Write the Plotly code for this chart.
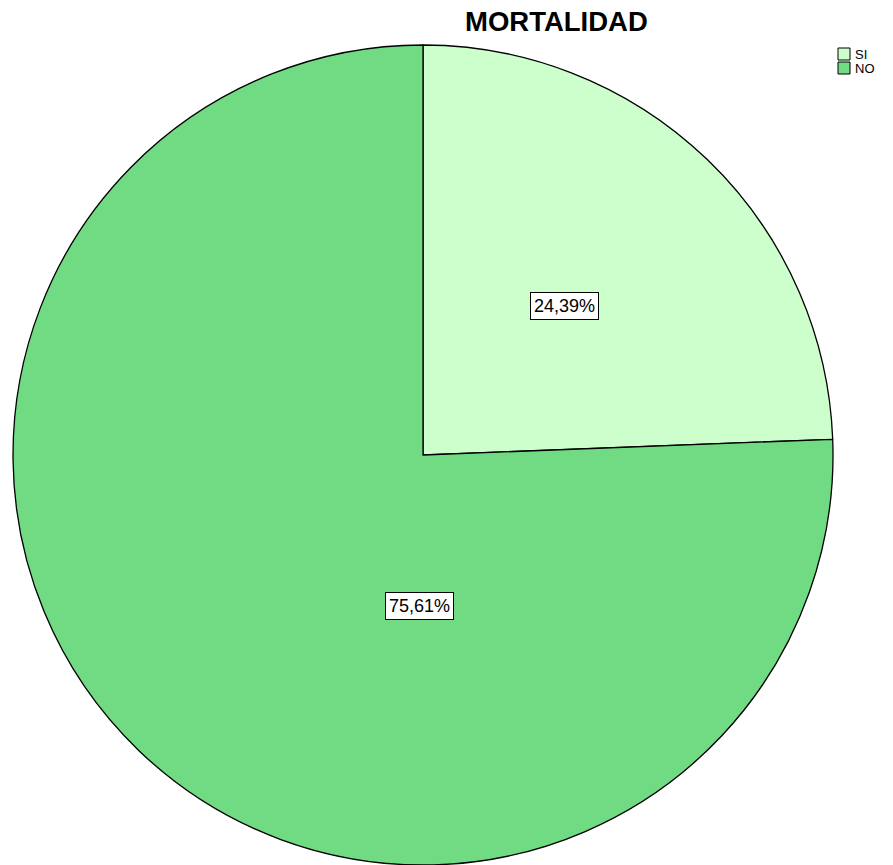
import plotly.graph_objects as go

# Mortality counts by outcome
labels = ["SI", "NO"]
counts = [10, 31]
colors = ["#CCFFCC", "#70DB82"]

W, H = 893, 865
total = sum(counts)
pct_labels = [f"{c / total * 100:.2f}".replace(".", ",") + "%" for c in counts]

# label anchor points (paper coords) for the boxed percentages
label_pos = [(0.632, 0.646), (0.470, 0.299)]

FONT = "Liberation Sans, Arial"

fig = go.Figure(
    go.Pie(
        labels=labels,
        values=counts,
        sort=False,
        direction="clockwise",
        rotation=0,
        textinfo="none",
        hoverinfo="label+percent",
        showlegend=False,
        marker=dict(colors=colors, line=dict(color="#000000", width=1.3)),
        domain=dict(x=[12 / W, 834 / W], y=[0, 1 - 45 / H]),
    )
)

annotations = [
    dict(
        text="<b>MORTALIDAD</b>",
        x=556 / W, y=1 - 22 / H, xref="paper", yref="paper",
        xanchor="center", yanchor="middle", showarrow=False,
        font=dict(family=FONT, size=27.5, color="#000000"),
    )
]
for txt, (ax, ay) in zip(pct_labels, label_pos):
    annotations.append(
        dict(
            text=txt, x=ax, y=ay, xref="paper", yref="paper",
            xanchor="center", yanchor="middle", showarrow=False,
            font=dict(family=FONT, size=18, color="#000000"),
            bgcolor="#FFFFFF", bordercolor="#000000", borderwidth=1, borderpad=3,
        )
    )

# compact legend: swatch + label per category
shapes = []
leg_x0, leg_y0, sw, step = 838, 48, 12, 14
for i, (lab, col) in enumerate(zip(labels, colors)):
    top = leg_y0 + i * step
    shapes.append(
        dict(
            type="rect", xref="paper", yref="paper",
            x0=leg_x0 / W, x1=(leg_x0 + sw) / W,
            y0=1 - (top + sw) / H, y1=1 - top / H,
            fillcolor=col, line=dict(color="#000000", width=1),
        )
    )
    annotations.append(
        dict(
            text=lab, x=(leg_x0 + sw + 3) / W, y=1 - (top + sw / 2 + 0.5) / H,
            xref="paper", yref="paper", xanchor="left", yanchor="middle",
            showarrow=False, font=dict(family=FONT, size=13, color="#000000"),
        )
    )

fig.update_layout(
    width=W, height=H,
    margin=dict(l=0, r=0, t=0, b=0),
    paper_bgcolor="#FFFFFF",
    plot_bgcolor="#FFFFFF",
    showlegend=False,
    annotations=annotations,
    shapes=shapes,
)

fig.write_html("out.html")
